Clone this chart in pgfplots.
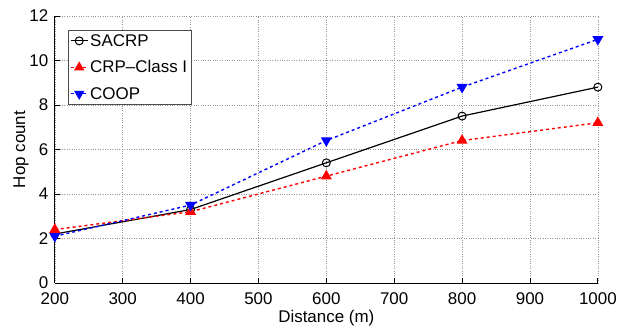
\documentclass[border=0pt]{standalone}
\usepackage{pgfplots}
\pgfplotsset{compat=1.18}
\usepackage{fontspec}
\setmainfont{Liberation Sans}
\begin{document}
\begin{tikzpicture}
\begin{axis}[
  scale only axis,
  width=545pt, height=268pt,
  xmin=200, xmax=1000, ymin=0, ymax=12,
  xtick={200,300,...,1000}, ytick={0,2,...,12},
  axis lines*=left,
  axis line style={line width=0.9pt, -},
  tick align=inside,
  tick style={black, line width=0.8pt},
  major tick length=5pt,
  grid=major,
  grid style={dotted, gray!80, line width=0.6pt},
  /pgf/number format/assume math mode=true,
  /pgf/number format/1000 sep={},
  ticklabel style={font=\fontsize{17}{19}\selectfont},
  xticklabel style={yshift=-6pt},
  yticklabel style={xshift=-3pt},
  label style={font=\fontsize{17}{19}\selectfont},
  xlabel={Distance (m)}, ylabel={Hop count},
  xlabel style={yshift=1pt},
  ylabel style={yshift=-6pt},
  legend style={at={(0.024,0.948)}, anchor=north west, draw=black!70, line width=0.8pt,
    font=\fontsize{17}{19}\selectfont, inner sep=2pt, row sep=9pt},
  legend cell align=left,
  legend image post style={line width=1pt},
]
\addplot[black, line width=1.2pt, mark=o, mark size=4pt, mark options={solid, line width=1pt}]
  coordinates {(200,2.2) (400,3.3) (600,5.4) (800,7.5) (1000,8.8)};
\addlegendentry{SACRP}
\addplot[red, dashed, line width=1.4pt, mark=triangle*, mark size=5pt, mark options={solid}]
  coordinates {(200,2.4) (400,3.2) (600,4.8) (800,6.4) (1000,7.2)};
\addlegendentry{CRP--Class I}
\addplot[blue, dashed, line width=1.4pt, mark=triangle*, mark size=5pt, mark options={solid, rotate=180}]
  coordinates {(200,2.1) (400,3.5) (600,6.4) (800,8.8) (1000,10.95)};
\addlegendentry{COOP}
\end{axis}
\path ([xshift=-55pt,yshift=-46pt]current axis.south west) rectangle ([xshift=20pt,yshift=16pt]current axis.north east);
\end{tikzpicture}
\end{document}
